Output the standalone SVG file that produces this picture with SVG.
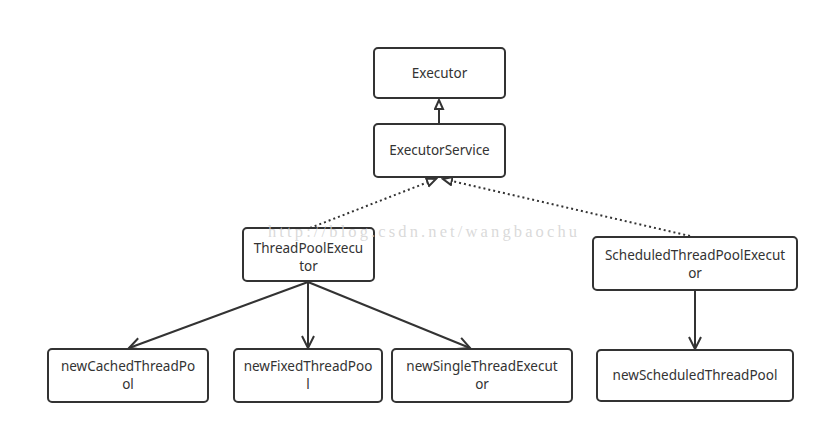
<svg xmlns="http://www.w3.org/2000/svg" width="829" height="434" viewBox="0 0 829 434">
<style>
.box{fill:#fff;stroke:#333;stroke-width:2}
.t{font-family:"Noto Sans","Open Sans",sans-serif;font-size:13.5px;fill:#333;text-anchor:middle}
.ln{stroke:#333;stroke-width:2;fill:none}
.dot{stroke:#333;stroke-width:2;fill:none;stroke-dasharray:2 3}
.wm{font-family:"Liberation Serif",serif;font-size:16.5px;fill:#d0d0d0;fill-opacity:0.8}
</style>
<defs>
<marker id="tri" markerWidth="12" markerHeight="12" refX="10" refY="5" orient="auto" markerUnits="userSpaceOnUse">
<path d="M1,1 L10,5 L1,9 Z" fill="#fff" stroke="#333" stroke-width="2"/>
</marker>
<marker id="open" markerWidth="16" markerHeight="16" refX="13" refY="7" orient="auto" markerUnits="userSpaceOnUse">
<path d="M1,1 L13,7 L1,13" fill="none" stroke="#333" stroke-width="2"/>
</marker>
</defs>
<rect width="829" height="434" fill="#fff"/>
<g id="connectors">
<line class="ln" x1="439" y1="124" x2="439" y2="100" marker-end="url(#tri)"/>
<line class="dot" x1="310" y1="228" x2="436" y2="179" marker-end="url(#tri)"/>
<line class="dot" x1="690" y1="236" x2="443" y2="179" marker-end="url(#tri)"/>
<line class="ln" x1="308" y1="282" x2="129" y2="348" marker-end="url(#open)"/>
<line class="ln" x1="308" y1="282" x2="308" y2="348" marker-end="url(#open)"/>
<line class="ln" x1="308" y1="282" x2="470" y2="348" marker-end="url(#open)"/>
<line class="ln" x1="695" y1="290" x2="695" y2="349" marker-end="url(#open)"/>
</g>
<g id="executor"><rect class="box" x="374" y="48" width="131" height="50" rx="4"/><text class="t" x="439.5" y="78">Executor</text></g>
<g id="executorService"><rect class="box" x="374" y="124" width="131" height="53" rx="4"/><text class="t" x="439.5" y="155">ExecutorService</text></g>
<g id="threadPoolExecutor"><rect class="box" x="243" y="228" width="131" height="53" rx="4"/><text class="t" x="308.5" y="253">ThreadPoolExecu</text><text class="t" x="308.5" y="271">tor</text></g>
<g id="scheduledThreadPoolExecutor"><rect class="box" x="593" y="237" width="204" height="53" rx="4"/><text class="t" x="695" y="260">ScheduledThreadPoolExecut</text><text class="t" x="695" y="278">or</text></g>
<g id="newCachedThreadPool"><rect class="box" x="48" y="349" width="160" height="53" rx="4"/><text class="t" x="128" y="371">newCachedThreadPo</text><text class="t" x="128" y="389">ol</text></g>
<g id="newFixedThreadPool"><rect class="box" x="234" y="349" width="148" height="53" rx="4"/><text class="t" x="308" y="371">newFixedThreadPoo</text><text class="t" x="308" y="389">l</text></g>
<g id="newSingleThreadExecutor"><rect class="box" x="392" y="349" width="180" height="53" rx="4"/><text class="t" x="482" y="371">newSingleThreadExecut</text><text class="t" x="482" y="389">or</text></g>
<g id="newScheduledThreadPool"><rect class="box" x="597" y="350" width="196" height="51" rx="4"/><text class="t" x="695" y="380">newScheduledThreadPool</text></g>
<text class="wm" x="268" y="237" textLength="309">http://blog.csdn.net/wangbaochu</text>
</svg>
